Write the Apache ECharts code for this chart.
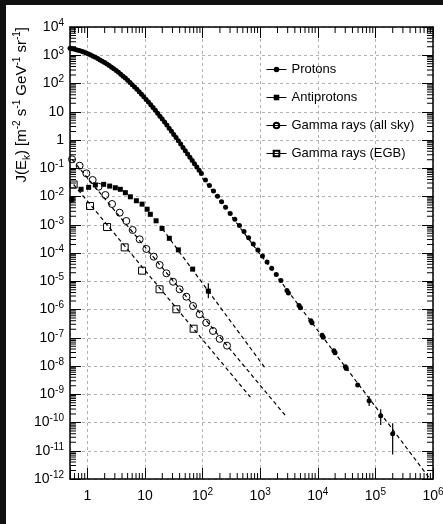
<!DOCTYPE html>
<html><head><meta charset="utf-8">
<script src="https://cdn.jsdelivr.net/npm/echarts@6/dist/echarts.min.js"></script>
<style>html,body{margin:0;padding:0;background:#fff}#c{width:443px;height:524px}</style>
</head><body><div id="c"></div>
<script>
// ---------------- data (kinetic energy in GeV, flux J) ----------------
const protonE = [0.501,0.550,0.603,0.661,0.724,0.794,0.871,0.955,1.047,1.148,1.259,1.380,1.514,1.660,1.820,1.995,2.188,2.399,2.630,2.884,3.162,3.467,3.802,4.169,4.571,5.012,5.495,6.026,6.607,7.244,7.943,8.710,9.550,10.47,11.48,12.59,13.80,15.14,16.60,18.20,19.95,21.88,23.99,26.30,28.84,31.62,34.67,38.02,41.69,45.71,50.12,54.95,60.26,66.07,72.44,79.43,87.10,95.50,112.2,131.8,154.9,182.0,213.8,251.2,302.0,363.1,436.5,524.8,631.0,758.6,912.0,1096,1318,1585,1905,2291];
const protonJ = [1758,1694,1622,1542,1459,1380,1294,1205,1112,1016,927,841,760,685,615,550,489,432,379,332,288,249,214,182,155,131,109,91.2,75.5,62.4,51.2,41.7,33.9,27.4,22.0,17.7,14.1,11.2,8.87,7.00,5.51,4.32,3.37,2.63,2.04,1.58,1.22,0.935,0.716,0.548,0.420,0.321,0.246,0.188,0.144,0.110,0.0849,0.0646,0.0380,0.0245,0.0158,0.0102,6.46e-3,4.17e-3,2.51e-3,1.55e-3,9.33e-4,5.75e-4,3.47e-4,2.09e-4,1.29e-4,7.76e-5,4.79e-5,2.88e-5,1.74e-5,1.07e-5];
const protonHiE = [2917,3090,4732,5012,7586,7943,11885,12445,19055,19953,30200,31261,49317,77804,123600,199500];
const protonHiJ = [4.68e-6,3.80e-6,1.38e-6,1.15e-6,3.98e-7,3.39e-7,1.23e-7,1.05e-7,3.47e-8,2.95e-8,9.33e-9,8.13e-9,2.14e-9,5.89e-10,1.74e-10,3.98e-11];
// error bars: [E, low, high]
const protonErr = [[49317,1.8e-9,2.5e-9],[77804,3.8e-10,8.7e-10],[123600,8.1e-11,2.95e-10],[199500,7.4e-12,9.5e-11]];

const antiE = [0.542,0.778,1.054,1.377,1.919,2.44,3.06,3.74,4.57,5.58,7.10,8.91,10.9,12.4,15.6,19.8,26.5,38.0,67.3,126];
const antiJ = [7.9e-3,0.018,0.0211,0.0257,0.0269,0.0234,0.0204,0.018,0.01365,9.77e-3,7.08e-3,5.37e-3,3.55e-3,2.34e-3,1.38e-3,7.41e-4,3.31e-4,1.29e-4,2.69e-5,4.47e-6];
const antiErr = [[0.542,5.9e-3,0.0105],[126,2.5e-6,8.5e-6]];

const gammaAllE = [0.542,0.734,0.962,1.236,1.57,2.056,2.685,3.64,4.75,6.11,8.09,10.57,14.2,18.0,23.6,30.8,40.0,52.4,68.4,89.1,116,152,198,266];
const gammaAllJ = [0.207,0.123,0.066,0.0384,0.0222,0.0113,5.43e-3,2.67e-3,1.36e-3,6.52e-4,3.05e-4,1.39e-4,7.41e-5,3.76e-5,1.91e-5,9.6e-6,5.19e-6,2.84e-6,1.33e-6,6.76e-7,3.41e-7,1.74e-7,9.1e-8,5.25e-8];

const gammaEgbE = [0.578,1.114,2.20,4.45,8.91,17.9,35.1,70.0];
const gammaEgbJ = [0.0266,4.61e-3,8.3e-4,1.58e-4,2.37e-5,5.19e-6,1.02e-6,2.09e-7];

// dashed power-law fits: [E, J] end points
const protonFit = [[100,0.045],[8.9e5,1.0e-12]];
const antiFit = [[20,7.2e-4],[1230,8.3e-9]];
const gammaAllFit = [[0.542,0.207],[2750,1.74e-10]];
const gammaEgbFit = [[0.578,0.0266],[676,7.9e-10]];

// axes
const xMin = 0.5, xMax = 1e6, yMin = 1e-12, yMax = 1e4;
const minorMult = [2,3,4,5,6,7,8,9];
const xDecades = [-1,0,1,2,3,4,5];
const yDecades = [-12,-11,-10,-9,-8,-7,-6,-5,-4,-3,-2,-1,0,1,2,3];

// ---------------- chart ----------------
const FONT = '"Liberation Sans", Arial, Helvetica, sans-serif';
const pairs = (xs, ys) => xs.map((x, i) => [x, ys[i]]);

const xMinor = [], yMinor = [];
xDecades.forEach(d => minorMult.forEach(m => { const v = m * Math.pow(10, d); if (v > xMin && v < xMax) xMinor.push([v, 1]); }));
yDecades.forEach(d => minorMult.forEach(m => { const v = m * Math.pow(10, d); if (v > yMin && v < yMax) yMinor.push([1, v]); }));

function expLabel(v) {
  const l = Math.log10(v), e = Math.round(l);
  if (Math.abs(l - e) > 1e-6) return '';
  if (e === 0) return '{b|1}';
  if (e === 1) return '{b|10}';
  return '{b|10}{sup|' + e + '}';
}
const labelRich = {
  b: {fontFamily: FONT, fontSize: 14, lineHeight: 18, verticalAlign: 'middle', color: '#000'},
  sup: {fontFamily: FONT, fontSize: 10, lineHeight: 8, verticalAlign: 'top', color: '#000'}
};
const axisCommon = {
  type: 'log', logBase: 10,
  axisLine: {show: true, onZero: false, lineStyle: {color: '#000', width: 1.5}},
  axisTick: {show: true, inside: true, length: 11, lineStyle: {color: '#000', width: 1}},
  minorTick: {show: false},
};
const st = {stroke: '#000', lineWidth: 1};
function renderXMinor(params, api) {
  const cs = params.coordSys;
  const x = api.coord([api.value(0), 1])[0];
  const yb = cs.y + cs.height, yt = cs.y;
  return {type: 'group', children: [
    {type: 'line', shape: {x1: x, y1: yb, x2: x, y2: yb - 6}, style: st},
    {type: 'line', shape: {x1: x, y1: yt, x2: x, y2: yt + 6}, style: st}]};
}
function renderYMinor(params, api) {
  const cs = params.coordSys;
  const y = api.coord([1, api.value(1)])[1];
  const xl = cs.x, xr = cs.x + cs.width;
  return {type: 'group', children: [
    {type: 'line', shape: {x1: xl, y1: y, x2: xl + 6, y2: y}, style: st},
    {type: 'line', shape: {x1: xr, y1: y, x2: xr - 6, y2: y}, style: st}]};
}
function renderErr(params, api) {
  const p1 = api.coord([api.value(0), api.value(1)]);
  const p2 = api.coord([api.value(0), api.value(2)]);
  return {type: 'line', shape: {x1: p1[0], y1: p1[1], x2: p2[0], y2: p2[1]}, style: {stroke: '#000', lineWidth: 1.2}};
}
function fitSeries(data) {
  return {type: 'line', data: data, symbol: 'none', silent: true, z: 3,
    lineStyle: {color: '#000', width: 1.2, type: [4, 3]}, legendHoverLink: false};
}
function dataSeries(name, data, symbol, size, filled) {
  return {name: name, type: 'line', data: data, symbol: symbol, symbolSize: size,
    showAllSymbol: true, z: 5,
    lineStyle: {opacity: 0, width: 1, color: '#000'},
    itemStyle: filled ? {color: '#000'} : {color: 'rgba(255,255,255,0)', borderColor: '#000', borderWidth: 1}};
}

const chart = echarts.init(document.getElementById('c'), null, {renderer: 'canvas'});
chart.setOption({
  backgroundColor: '#fff',
  animation: false,
  grid: {left: 70, right: 10, top: 27, bottom: 45, containLabel: false, outerBoundsMode: 'none'},
  xAxis: [
    Object.assign({}, axisCommon, {position: 'bottom', min: xMin, max: xMax, splitNumber: 6,
      axisLabel: {show: true, margin: 8, formatter: expLabel, rich: labelRich},
      splitLine: {show: true, lineStyle: {color: '#b0b0b0', width: 1, type: [3, 3]}},
      name: 'Kinetic energy [GeV]', nameLocation: 'end', nameGap: 0,
      nameTextStyle: {fontFamily: FONT, fontSize: 15, color: '#000', align: 'right', verticalAlign: 'top', padding: [19, 0, 0, 0]}}),
    Object.assign({}, axisCommon, {position: 'top', min: xMin, max: xMax, splitNumber: 6,
      axisLabel: {show: false}, splitLine: {show: false}})
  ],
  yAxis: [
    Object.assign({}, axisCommon, {position: 'left', min: yMin, max: yMax, interval: 1,
      axisLabel: {show: true, margin: 6, formatter: expLabel, rich: labelRich},
      splitLine: {show: true, lineStyle: {color: '#b0b0b0', width: 1, type: [3, 3]}}}),
    Object.assign({}, axisCommon, {position: 'right', min: yMin, max: yMax, interval: 1,
      axisLabel: {show: false}, splitLine: {show: false}})
  ],
  legend: {
    orient: 'vertical', left: 266, top: 63, padding: 0, itemWidth: 20, itemHeight: 7, itemGap: 15,
    textStyle: {fontFamily: FONT, fontSize: 13, color: '#000'},
    lineStyle: {color: '#000', width: 1, type: 'solid', opacity: 1},
    data: ['Protons', 'Antiprotons', 'Gamma rays (all sky)', 'Gamma rays (EGB)']
  },
  graphic: [
    {type: 'rect', left: 0, top: 0, shape: {width: 443, height: 5}, style: {fill: '#111'}, silent: true},
    {type: 'rect', left: 0, top: 0, shape: {width: 6, height: 524}, style: {fill: '#111'}, silent: true},
    {type: 'text', x: 22, y: 27, rotation: Math.PI / 2, silent: true,
      style: {text: '{b|J(E}{sub|k}{b|) [m}{sup|-2}{b| s}{sup|-1}{b| GeV}{sup|-1}{b| sr}{sup|-1}{b|]}',
        align: 'right', verticalAlign: 'middle', fill: '#000',
        rich: {
          b: {fontFamily: FONT, fontSize: 15, lineHeight: 20, verticalAlign: 'middle', fill: '#000'},
          sup: {fontFamily: FONT, fontSize: 10, lineHeight: 9, verticalAlign: 'top', fill: '#000'},
          sub: {fontFamily: FONT, fontSize: 10, lineHeight: 11, verticalAlign: 'bottom', fill: '#000'}
        }}}
  ],
  series: [
    {type: 'custom', data: xMinor, renderItem: renderXMinor, silent: true, z: 6, encode: {x: 0, y: 1}},
    {type: 'custom', data: yMinor, renderItem: renderYMinor, silent: true, z: 6, encode: {x: 0, y: 1}},
    fitSeries(protonFit), fitSeries(antiFit), fitSeries(gammaAllFit), fitSeries(gammaEgbFit),
    dataSeries('Protons', pairs(protonE, protonJ).concat(pairs(protonHiE, protonHiJ)), 'circle', 5, true),
    dataSeries('Antiprotons', pairs(antiE, antiJ), 'rect', 5, true),
    dataSeries('Gamma rays (all sky)', pairs(gammaAllE, gammaAllJ), 'circle', 7, false),
    dataSeries('Gamma rays (EGB)', pairs(gammaEgbE, gammaEgbJ), 'rect', 7, false),
    {type: 'custom', data: protonErr.concat(antiErr), renderItem: renderErr, silent: true, z: 4, encode: {x: 0, y: [1, 2]}}
  ]
});
</script></body></html>
